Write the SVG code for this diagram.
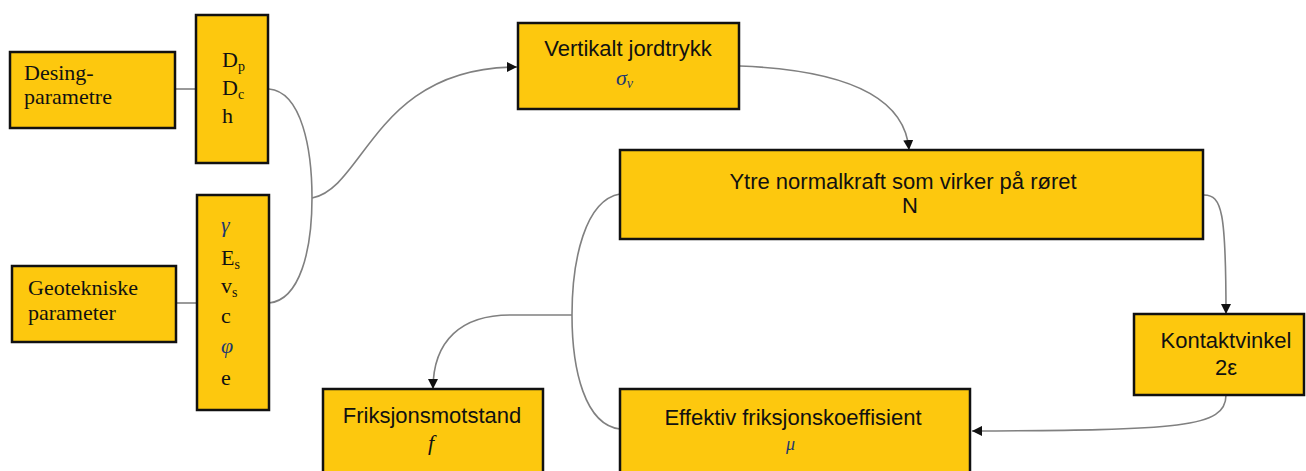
<svg xmlns="http://www.w3.org/2000/svg" width="1306" height="471" viewBox="0 0 1306 471">
<style>
.box{fill:#FDC80E;stroke:#111;stroke-width:2.5}
.ser{font-family:"Liberation Serif","Times New Roman",serif;font-size:22px;fill:#111}
.san{font-family:"Liberation Sans",Arial,sans-serif;font-size:22px;fill:#111;text-anchor:middle}
.gr{font-family:"Liberation Serif","Times New Roman",serif;font-style:italic;font-size:22px;fill:#1F3A6E}
.sub{font-size:14px}
.con{fill:none;stroke:#808080;stroke-width:1.6}
</style>
<defs>
<marker id="arr" viewBox="0 0 10 10" refX="10" refY="5" markerWidth="10" markerHeight="10" markerUnits="userSpaceOnUse" orient="auto">
<path d="M0,0 L10,5 L0,10 z" fill="#111"/>
</marker>
</defs>
<g id="connectors">
<path class="con" d="M175,89 L196,89"/>
<path class="con" d="M176,303 L197,303"/>
<path class="con" d="M269,89 C302,92 312,150 312,198 C312,250 300,300 269,303"/>
<path class="con" d="M312,198 C365,188 375,67 517,67" marker-end="url(#arr)"/>
<path class="con" d="M740,66 C840,70 905,95 909,150" marker-end="url(#arr)"/>
<path class="con" d="M1204,195 C1222,195 1226,212 1226,314" marker-end="url(#arr)"/>
<path class="con" d="M1226,395 C1226,428 1180,430 972,431" marker-end="url(#arr)"/>
<path class="con" d="M620,194 C585,200 572,260 572,315 C572,370 585,425 620,429"/>
<path class="con" d="M572,315 L510,315 C462,315 433,340 433,389" marker-end="url(#arr)"/>
</g>
<g id="desing">
<rect class="box" x="10" y="52" width="165" height="76"/>
<text class="ser" x="24" y="80">Desing-</text>
<text class="ser" x="24" y="104">parametre</text>
</g>
<g id="designparams">
<rect class="box" x="196" y="15" width="72" height="148"/>
<text class="ser" x="222" y="67">D<tspan class="sub" dy="4">p</tspan></text>
<text class="ser" x="222" y="95">D<tspan class="sub" dy="4">c</tspan></text>
<text class="ser" x="222" y="123">h</text>
</g>
<g id="geotekniske">
<rect class="box" x="12" y="266" width="164" height="76"/>
<text class="ser" x="28" y="295">Geotekniske</text>
<text class="ser" x="28" y="320">parameter</text>
</g>
<g id="geoparams">
<rect class="box" x="197" y="195" width="72" height="215"/>
<text class="gr" x="221" y="232">γ</text>
<text class="ser" x="221" y="265">E<tspan class="sub" dy="4">s</tspan></text>
<text class="ser" x="221" y="293">v<tspan class="sub" dy="4">s</tspan></text>
<text class="ser" x="221" y="323">c</text>
<text class="gr" x="221" y="353">φ</text>
<text class="ser" x="221" y="385">e</text>
</g>
<g id="vertikalt">
<rect class="box" x="518" y="23" width="221" height="86"/>
<text class="san" x="628" y="56">Vertikalt jordtrykk</text>
<text class="gr" x="616" y="85">σ<tspan class="sub" dy="3">v</tspan></text>
</g>
<g id="ytre">
<rect class="box" x="620" y="150" width="583" height="89"/>
<text class="san" x="903" y="189">Ytre normalkraft som virker på røret</text>
<text class="san" x="910" y="213">N</text>
</g>
<g id="kontakt">
<rect class="box" x="1134" y="314" width="170" height="81"/>
<text class="san" x="1226" y="348">Kontaktvinkel</text>
<text class="san" x="1226" y="375">2ε</text>
</g>
<g id="effektiv">
<rect class="box" x="620" y="389" width="350" height="100"/>
<text class="san" x="793" y="425">Effektiv friksjonskoeffisient</text>
<text class="gr" x="786" y="450" style="font-size:18px">μ</text>
</g>
<g id="friksjon">
<rect class="box" x="323" y="389" width="220" height="100"/>
<text class="san" x="432" y="423">Friksjonsmotstand</text>
<text class="ser" x="428" y="450" style="font-style:italic">f</text>
</g>
</svg>
